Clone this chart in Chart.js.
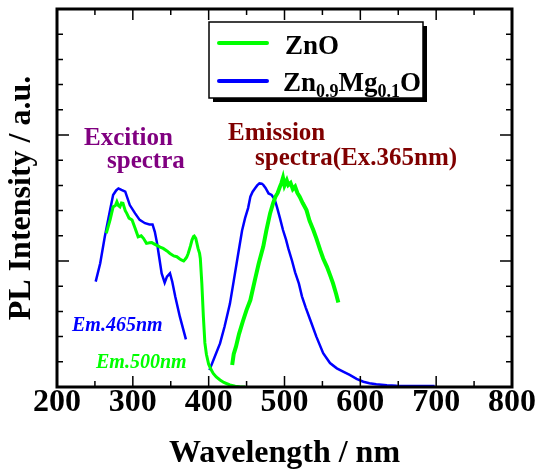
<!DOCTYPE html>
<html>
<head>
<meta charset="utf-8">
<script src="https://cdn.jsdelivr.net/npm/chart.js@4.4.1/dist/chart.umd.min.js"></script>
<style>
  html, body { margin: 0; padding: 0; background: #fff; }
  #wrap { width: 537px; height: 473px; }
</style>
</head>
<body>
<div id="wrap"><canvas id="c"></canvas></div>
<script>
// --- data (wavelength nm / PL intensity a.u.) ---
const xTicks = [200, 300, 400, 500, 600, 700, 800];

// ZnO excitation (Em.500nm)
const znoExNm  = [265,270,274,277,279,281,283,285,287,290,292,295,299,303,307,311,314,318,322,325,331,336,340,345,349,354,358,362,364,367,369,371,373,376,378,380,381,383,384,386,388,389,391,393,395,397,400,403,406,410,415,420,428,435,441,448];
const znoExVal = [6.1,6.63,7.15,7.2,7.35,7.2,7.15,7.3,7.29,7.0,6.89,6.7,6.63,6.3,5.96,6.0,5.9,5.7,5.72,5.73,5.63,5.55,5.5,5.4,5.3,5.2,5.17,5.08,5.04,5.0,5.07,5.15,5.3,5.6,5.83,5.97,5.99,5.9,5.77,5.5,5.3,5.1,4.1,2.8,1.75,1.3,0.9,0.7,0.54,0.4,0.28,0.18,0.08,0.03,0.01,0];

// ZnO emission (Ex.365nm)
const znoEmNm  = [431,433,436,440,445,450,455,461,466,472,476,481,485,488,491,494,496,498,500,503,505,508,511,514,517,520,524,529,533,538,542,547,551,556,560,564,568,571];
const znoEmVal = [0.87,1.3,1.6,2.1,2.6,3.06,3.45,4.25,4.9,5.57,6.2,6.89,7.3,7.55,7.7,7.95,8.1,8.3,8.0,8.2,8.02,8.1,7.85,7.95,7.7,7.55,7.3,7.02,6.6,6.23,5.9,5.44,5.1,4.77,4.45,4.11,3.7,3.35];

// Zn0.9Mg0.1O excitation (Em.465nm)
const mgExNm  = [251,257,263,270,274,278,281,285,290,296,303,309,316,322,326,329,332,334,338,342,345,349,352,356,362,370];
const mgExVal = [4.18,4.91,5.96,7.02,7.62,7.8,7.88,7.82,7.75,7.22,6.89,6.63,6.5,6.45,6.45,6.16,5.7,5.3,4.51,4.14,4.38,4.51,4.18,3.58,2.79,1.89];

// Zn0.9Mg0.1O emission
const mgEmNm  = [401,408,415,421,428,433,439,444,448,452,455,458,461,464,467,470,472,475,479,483,487,490,494,498,502,505,510,514,519,523,528,534,542,551,560,569,578,586,595,604,612,621,635,648,670,698];
const mgEmVal = [0.67,1.2,1.73,2.4,3.3,4.2,5.3,6.2,6.7,7.1,7.55,7.75,7.88,8.0,8.08,8.07,8.02,7.9,7.68,7.62,7.45,7.15,6.7,6.23,5.85,5.5,5.0,4.55,4.1,3.6,3.15,2.66,2.0,1.34,0.95,0.74,0.6,0.48,0.32,0.21,0.15,0.11,0.07,0.05,0.04,0.04];

const GREEN = '#00ff00';
const BLUE = '#0000ff';
const SERIF = '"Liberation Serif", "Times New Roman", serif';

function pts(xs, ys) { return xs.map((x, i) => ({ x: x, y: ys[i] })); }

function series(label, xs, ys, color, width) {
  return {
    label: label, data: pts(xs, ys),
    borderColor: color, backgroundColor: color,
    borderWidth: width, pointRadius: 0, tension: 0,
    showLine: true, fill: false
  };
}

// frame + inward ticks on all four sides
const framePlugin = {
  id: 'frame',
  afterDraw(chart) {
    const { ctx, chartArea: a, scales: { x, y } } = chart;
    ctx.save();
    ctx.strokeStyle = '#000';
    ctx.lineWidth = 1.5;
    ctx.beginPath();
    for (let v = 200; v <= 800; v += 50) {
      const px = x.getPixelForValue(v);
      const len = (v % 100 === 0) ? 11 : 6;
      ctx.moveTo(px, a.bottom); ctx.lineTo(px, a.bottom - len);
      ctx.moveTo(px, a.top); ctx.lineTo(px, a.top + len);
    }
    for (let v = 0; v <= 15; v += 1) {
      const py = y.getPixelForValue(v);
      const len = (v % 5 === 0) ? 12 : 6;
      ctx.moveTo(a.left, py); ctx.lineTo(a.left + len, py);
      ctx.moveTo(a.right, py); ctx.lineTo(a.right - len, py);
    }
    ctx.stroke();
    ctx.lineWidth = 3;
    ctx.strokeRect(a.left, a.top, a.right - a.left, a.bottom - a.top);
    ctx.restore();
  }
};

// legend with subscripts and the text notes
const notesPlugin = {
  id: 'notes',
  afterDraw(chart) {
    const ctx = chart.ctx;
    ctx.save();
    // legend box with shadow
    ctx.fillStyle = '#000';
    ctx.fillRect(213, 26, 214, 76);
    ctx.fillStyle = '#fff';
    ctx.fillRect(209, 22, 214, 76);
    ctx.strokeStyle = '#000';
    ctx.lineWidth = 1.5;
    ctx.strokeRect(209, 22, 214, 76);
    ctx.lineCap = 'round';
    ctx.lineWidth = 4;
    ctx.strokeStyle = GREEN;
    ctx.beginPath(); ctx.moveTo(219, 43); ctx.lineTo(267, 43); ctx.stroke();
    ctx.strokeStyle = BLUE;
    ctx.beginPath(); ctx.moveTo(219, 81); ctx.lineTo(267, 81); ctx.stroke();

    ctx.fillStyle = '#000';
    ctx.textBaseline = 'alphabetic';
    ctx.textAlign = 'left';
    ctx.font = 'bold 27px ' + SERIF;
    ctx.fillText('ZnO', 285, 54);
    // Zn0.9Mg0.1O
    let cx = 283;
    const parts = [['Zn', 0], ['0.9', 1], ['Mg', 0], ['0.1', 1], ['O', 0]];
    parts.forEach(([t, sub]) => {
      ctx.font = (sub ? 'bold 18px ' : 'bold 27px ') + SERIF;
      ctx.fillText(t, cx, sub ? 97 : 91);
      cx += ctx.measureText(t).width;
    });

    // annotations
    ctx.font = 'bold 25px ' + SERIF;
    ctx.fillStyle = '#800080';
    ctx.fillText('Excition', 84, 145);
    ctx.fillText('spectra', 107, 168);
    ctx.fillStyle = '#800000';
    ctx.fillText('Emission', 228, 140);
    ctx.fillText('spectra(Ex.365nm)', 255, 165);

    ctx.font = 'italic bold 20px ' + SERIF;
    ctx.fillStyle = BLUE;
    ctx.fillText('Em.465nm', 72, 331);
    ctx.fillStyle = GREEN;
    ctx.fillText('Em.500nm', 96, 368);
    ctx.restore();
  }
};

new Chart(document.getElementById('c'), {
  type: 'scatter',
  data: {
    datasets: [
      series('ZnO', znoExNm, znoExVal, GREEN, 3),
      series('ZnO', znoEmNm, znoEmVal, GREEN, 4),
      series('Zn0.9Mg0.1O', mgExNm, mgExVal, BLUE, 2.5),
      series('Zn0.9Mg0.1O', mgEmNm, mgEmVal, BLUE, 2.5)
    ]
  },
  options: {
    responsive: true,
    maintainAspectRatio: false,
    animation: false,
    layout: { padding: { left: 0, top: 9, right: 25, bottom: 0 } },
    plugins: { legend: { display: false }, tooltip: { enabled: false } },
    scales: {
      x: {
        type: 'linear', min: 200, max: 800,
        afterBuildTicks: (s) => { s.ticks = xTicks.map(v => ({ value: v })); },
        afterFit: (s) => { s.height = 86; },
        grid: { display: false, drawTicks: false },
        border: { display: false },
        ticks: { color: '#000', padding: -3, font: { family: SERIF, size: 32, weight: 'bold' } },
        title: {
          display: true, text: 'Wavelength / nm', color: '#000',
          padding: { top: 0, bottom: 0 },
          font: { family: SERIF, size: 32, weight: 'bold' }
        }
      },
      y: {
        type: 'linear', min: 0, max: 15,
        afterFit: (s) => { s.width = 57; },
        grid: { display: false, drawTicks: false },
        border: { display: false },
        ticks: { display: false },
        title: {
          display: true, text: 'PL Intensity / a.u.', color: '#000',
          padding: { top: 3, bottom: 0 },
          font: { family: SERIF, size: 32, weight: 'bold' }
        }
      }
    }
  },
  plugins: [framePlugin, notesPlugin]
});
</script>
</body>
</html>
